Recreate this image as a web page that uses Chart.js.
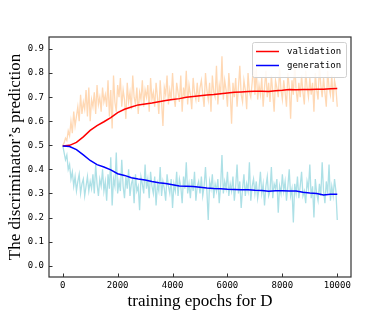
<!DOCTYPE html>
<html>
<head>
<meta charset="utf-8">
<script src="https://cdn.jsdelivr.net/npm/chart.js@4.4.1/dist/chart.umd.min.js"></script>
<style>
    html, body { margin: 0; padding: 0; background: #fff; }
    #wrap { width: 390px; height: 312px; }
</style>
</head>
<body>
<div id="wrap"><canvas id="chart" width="390" height="312"></canvas></div>
<script>
// tick values
const xTicks = [0, 2000, 4000, 6000, 8000, 10000];
const yTicks = [0, 0.1, 0.2, 0.3, 0.4, 0.5, 0.6, 0.7, 0.8, 0.9];

// raw (noisy) predictions, one value every 50 epochs from 0 to 10000
const valRaw = [
    0.50,0.51,0.53,0.52,0.56,0.54,0.60,0.55,0.64,0.58,0.62,0.66,0.60,0.71,0.63,0.68,0.65,0.73,0.62,0.74,0.60,
    0.69,0.66,0.72,0.63,0.75,0.67,0.70,0.64,0.74,0.68,0.71,0.66,0.77,0.62,0.73,0.57,0.79,0.68,0.64,0.75,
    0.70,0.78,0.66,0.73,0.69,0.61,0.76,0.68,0.72,0.65,0.79,0.70,0.67,0.74,0.63,0.72,0.69,0.77,0.66,0.73,
    0.70,0.75,0.64,0.78,0.69,0.72,0.66,0.76,0.70,0.63,0.77,0.68,0.58,0.74,0.71,0.79,0.67,0.73,0.69,0.80,
    0.70,0.66,0.76,0.72,0.68,0.79,0.64,0.74,0.70,0.81,0.67,0.75,0.71,0.65,0.78,0.72,0.69,0.76,0.68,0.74,
    0.77,0.71,0.66,0.80,0.73,0.69,0.76,0.64,0.79,0.72,0.70,0.83,0.67,0.75,0.71,0.87,0.69,0.77,0.73,0.66,
    0.80,0.72,0.59,0.76,0.70,0.78,0.66,0.74,0.83,0.71,0.68,0.77,0.73,0.65,0.80,0.72,0.70,0.76,0.84,0.71,
    0.82,0.69,0.75,0.71,0.78,0.66,0.74,0.81,0.70,0.76,0.68,0.79,0.72,0.64,0.77,0.74,0.70,0.82,0.73,0.69,
    0.77,0.72,0.66,0.80,0.74,0.61,0.77,0.71,0.84,0.73,0.68,0.76,0.70,0.79,0.72,0.67,0.81,0.74,0.70,0.78,
    0.71,0.76,0.64,0.80,0.73,0.69,0.83,0.75,0.70,0.78,0.72,0.66,0.81,0.74,0.71,0.79,0.68,0.77,0.74,0.66
];
const genRaw = [
    0.50,0.47,0.44,0.46,0.40,0.42,0.36,0.39,0.33,0.37,0.31,0.35,0.38,0.30,0.34,0.36,0.29,0.33,0.37,0.31,0.35,
    0.32,0.38,0.30,0.42,0.34,0.29,0.36,0.33,0.40,0.31,0.35,0.27,0.38,0.32,0.45,0.25,0.36,0.33,0.47,0.30,
    0.35,0.31,0.44,0.33,0.28,0.37,0.32,0.40,0.29,0.34,0.36,0.26,0.38,0.31,0.33,0.23,0.37,0.34,0.30,0.42,
    0.32,0.36,0.28,0.39,0.33,0.30,0.37,0.25,0.34,0.31,0.41,0.29,0.35,0.32,0.27,0.38,0.33,0.30,0.36,0.24,
    0.34,0.31,0.39,0.29,0.36,0.33,0.26,0.37,0.32,0.43,0.30,0.34,0.28,0.36,0.31,0.39,0.27,0.33,0.35,0.30,
    0.37,0.29,0.33,0.41,0.31,0.19,0.35,0.32,0.38,0.28,0.34,0.31,0.36,0.26,0.33,0.46,0.30,0.35,0.32,0.39,
    0.29,0.34,0.31,0.37,0.27,0.33,0.42,0.30,0.35,0.24,0.32,0.38,0.29,0.34,0.31,0.43,0.27,0.33,0.36,0.30,
    0.35,0.28,0.32,0.39,0.30,0.34,0.25,0.33,0.37,0.29,0.31,0.41,0.28,0.34,0.32,0.36,0.22,0.33,0.30,0.38,
    0.31,0.35,0.27,0.33,0.40,0.29,0.32,0.18,0.34,0.30,0.37,0.28,0.33,0.39,0.29,0.31,0.26,0.35,0.32,0.42,
    0.28,0.33,0.20,0.36,0.30,0.27,0.34,0.29,0.43,0.31,0.26,0.35,0.30,0.42,0.27,0.33,0.29,0.36,0.31,0.19
];

// smoothed curves, one value every 250 epochs from 0 to 10000
const valSmooth = [
    0.497,0.500,0.512,0.535,0.562,0.582,0.598,0.615,0.636,0.650,0.659,0.668,0.672,0.676,0.681,0.686,
    0.690,0.694,0.700,0.703,0.706,0.709,0.711,0.714,0.717,0.720,0.722,0.724,0.725,0.725,0.724,0.727,
    0.729,0.732,0.731,0.732,0.732,0.733,0.733,0.735,0.736
];
const genSmooth = [
    0.497,0.495,0.482,0.460,0.437,0.420,0.410,0.398,0.382,0.375,0.365,0.360,0.356,0.350,0.345,0.341,
    0.336,0.331,0.330,0.329,0.326,0.323,0.321,0.320,0.318,0.317,0.315,0.315,0.313,0.312,0.309,0.311,
    0.311,0.310,0.310,0.305,0.302,0.300,0.294,0.297,0.297
];

const maxEpoch = 10000;

function toPoints(values) {
    const step = maxEpoch / (values.length - 1);
    return values.map((v, i) => ({ x: i * step, y: v }));
}

const tickFont = { family: 'DejaVu Sans Mono', size: 9 };
const titleFont = { family: 'Liberation Serif', size: 17 };

// frame around the plot and inward tick marks
const framePlugin = {
    id: 'frame',
    afterDatasetsDraw(chart) {
        const { ctx, chartArea: a, scales } = chart;
        ctx.save();
        ctx.strokeStyle = '#333';
        ctx.lineWidth = 1;
        ctx.beginPath();
        xTicks.forEach(v => {
            const px = Math.round(scales.x.getPixelForValue(v)) + 0.5;
            ctx.moveTo(px, a.bottom);
            ctx.lineTo(px, a.bottom - 3.5);
        });
        yTicks.forEach(v => {
            const py = Math.round(scales.y.getPixelForValue(v)) + 0.5;
            ctx.moveTo(a.left, py);
            ctx.lineTo(a.left + 3.5, py);
        });
        ctx.stroke();
        ctx.lineWidth = 1.2;
        ctx.strokeRect(a.left, a.top, a.right - a.left, a.bottom - a.top);
        ctx.restore();
    }
};

// legend box in the upper right corner of the plot
const legendPlugin = {
    id: 'cornerLegend',
    afterDraw(chart) {
        const { ctx, chartArea: a } = chart;
        const items = chart.data.datasets.filter(d => d.label);
        const w = 94, h = 35;
        const x0 = a.right - w - 5, y0 = a.top + 5;
        ctx.save();
        ctx.fillStyle = 'rgba(255,255,255,0.85)';
        ctx.strokeStyle = '#d0d0d0';
        ctx.lineWidth = 1;
        ctx.beginPath();
        ctx.roundRect(x0 + 0.5, y0 + 0.5, w, h, 2);
        ctx.fill();
        ctx.stroke();
        ctx.font = '9px "DejaVu Sans Mono"';
        ctx.textBaseline = 'middle';
        items.forEach((d, i) => {
            const y = y0 + 9.5 + i * 14;
            ctx.strokeStyle = d.borderColor;
            ctx.lineWidth = 1.5;
            ctx.beginPath();
            ctx.moveTo(x0 + 4, y);
            ctx.lineTo(x0 + 27, y);
            ctx.stroke();
            ctx.fillStyle = '#000';
            ctx.fillText(d.label, x0 + 35, y);
        });
        ctx.restore();
    }
};

new Chart(document.getElementById('chart'), {
    type: 'line',
    data: {
        datasets: [
            { label: 'validation', data: toPoints(valSmooth), borderColor: '#ff0000', borderWidth: 1.5, order: 1 },
            { label: 'generation', data: toPoints(genSmooth), borderColor: '#0000ff', borderWidth: 1.5, order: 0 },
            { data: toPoints(valRaw), borderColor: '#ffd8b4', borderWidth: 1.3, order: 3 },
            { data: toPoints(genRaw), borderColor: '#ade0e6', borderWidth: 1.3, order: 2 }
        ]
    },
    options: {
        responsive: false,
        animation: false,
        devicePixelRatio: 1,
        elements: { point: { radius: 0 }, line: { tension: 0 } },
        layout: { padding: { top: 37, right: 39, left: 0, bottom: 0 } },
        plugins: { legend: { display: false }, tooltip: { enabled: false } },
        scales: {
            x: {
                type: 'linear',
                min: -500,
                max: 10500,
                afterBuildTicks: s => { s.ticks = xTicks.map(v => ({ value: v })); },
                afterFit: s => { s.height = 35; },
                grid: { display: false, drawTicks: false },
                border: { display: false },
                ticks: { font: tickFont, color: '#000', padding: 3, maxRotation: 0, callback: v => String(v) },
                title: { display: true, text: 'training epochs for D', font: titleFont, color: '#000', padding: { top: 0, bottom: 0 } }
            },
            y: {
                type: 'linear',
                min: -0.047,
                max: 0.95,
                afterBuildTicks: s => { s.ticks = yTicks.map(v => ({ value: v })); },
                afterFit: s => { s.width = 49; },
                grid: { display: false, drawTicks: false },
                border: { display: false },
                ticks: { font: tickFont, color: '#000', padding: 5, callback: v => v.toFixed(1) },
                title: { display: true, text: 'The discriminator\u2019s prediction', font: titleFont, color: '#000', padding: { top: 5, bottom: 0 } }
            }
        }
    },
    plugins: [framePlugin, legendPlugin]
});
</script>
</body>
</html>
